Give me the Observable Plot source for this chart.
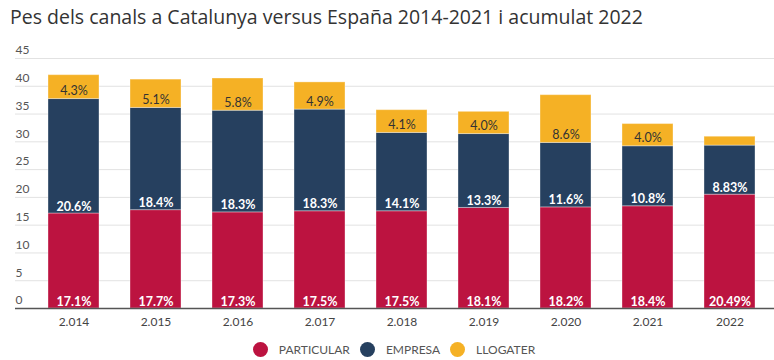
<!DOCTYPE html>
<html>
<head>
<meta charset="utf-8">
<script src="https://cdn.jsdelivr.net/npm/d3@7"></script>
<script src="https://cdn.jsdelivr.net/npm/@observablehq/plot@0.6"></script>
<style>
  body { margin: 0; background: #fff; font-family: Lato, "Open Sans", sans-serif; }
  #title { height: 36px; box-sizing: border-box; padding: 5px 0 0 10px; font-family: "Open Sans", sans-serif; font-size: 19.5px; color: #333; line-height: 24px; }
  #legend { display: flex; justify-content: center; align-items: center; height: 22px; padding-left: 14px; font-family: Lato, sans-serif; font-size: 12px; color: #555; }
  #legend .item { display: flex; align-items: center; margin: 0 5px; }
  #legend .dot { width: 15px; height: 15px; border-radius: 50%; margin-right: 11px; }
</style>
</head>
<body>
<div id="title">Pes dels canals a Catalunya versus España 2014-2021 i acumulat 2022</div>
<div id="chart"></div>
<div id="legend"></div>
<script>
const years = ["2.014", "2.015", "2.016", "2.017", "2.018", "2.019", "2.020", "2.021", "2022"];
const seriesNames = ["PARTICULAR", "EMPRESA", "LLOGATER"];
const colors = ["#BC1340", "#26405F", "#F5B125"];

const particular = [17.1, 17.7, 17.3, 17.5, 17.5, 18.1, 18.2, 18.4, 20.49];
const empresa = [20.6, 18.4, 18.3, 18.3, 14.1, 13.3, 11.6, 10.8, 8.83];
const llogater = [4.3, 5.1, 5.8, 4.9, 4.1, 4.0, 8.6, 4.0, 1.6];

const particularLabels = ["17.1%", "17.7%", "17.3%", "17.5%", "17.5%", "18.1%", "18.2%", "18.4%", "20.49%"];
const empresaLabels = ["20.6%", "18.4%", "18.3%", "18.3%", "14.1%", "13.3%", "11.6%", "10.8%", "8.83%"];
const llogaterLabels = ["4.3%", "5.1%", "5.8%", "4.9%", "4.1%", "4.0%", "8.6%", "4.0%", null];

const yTicks = [0, 5, 10, 15, 20, 25, 30, 35, 40, 45];

const valuesBySeries = [particular, empresa, llogater];
const labelsBySeries = [particularLabels, empresaLabels, llogaterLabels];

const data = [];
seriesNames.forEach((s, si) => {
  years.forEach((y, i) => {
    data.push({year: y, series: s, value: valuesBySeries[si][i], label: labelsBySeries[si][i]});
  });
});

const chart = Plot.plot({
  width: 774,
  height: 302,
  marginTop: 22,
  marginBottom: 30,
  marginLeft: 15,
  marginRight: 0,
  style: {fontFamily: "Lato, sans-serif", background: "#fff"},
  x: {domain: years, range: [46, 757], paddingInner: 0.383, paddingOuter: 0},
  y: {domain: [0, 45]},
  color: {domain: seriesNames, range: colors},
  marks: [
    Plot.gridY(yTicks, {stroke: "#e2e2e2", strokeOpacity: 1, strokeWidth: 1}),
    Plot.axisY(yTicks, {anchor: "left", tickSize: 0, tickPadding: 0, textAnchor: "start", dy: -8, fontSize: 12, fill: "#555", label: null}),
    Plot.barY(data, {x: "year", y: "value", fill: "series", z: "series", stroke: "#ffffff", strokeOpacity: 0.35, strokeWidth: 1}),
    Plot.text(data, Plot.stackY1({x: "year", y: "value", z: "series",
      text: d => d.series === "LLOGATER" ? null : d.label,
      lineAnchor: "bottom", dy: -3, fill: "white", fontWeight: "bold", fontSize: 12.5})),
    Plot.text(data, Plot.stackY1({x: "year", y: "value", z: "series",
      text: d => d.series === "LLOGATER" ? d.label : null,
      lineAnchor: "bottom", dy: -4, fill: "#333", fontSize: 12.5})),
    Plot.ruleY([0], {stroke: "#555", strokeWidth: 1.5}),
    Plot.axisX({anchor: "bottom", tickSize: 0, tickPadding: 9, fontSize: 12, fill: "#444", label: null})
  ]
});
document.getElementById("chart").appendChild(chart);

const legend = document.getElementById("legend");
seriesNames.forEach((s, i) => {
  const item = document.createElement("div");
  item.className = "item";
  const dot = document.createElement("span");
  dot.className = "dot";
  dot.style.background = colors[i];
  const label = document.createElement("span");
  label.textContent = s;
  item.appendChild(dot);
  item.appendChild(label);
  legend.appendChild(item);
});
</script>
</body>
</html>
